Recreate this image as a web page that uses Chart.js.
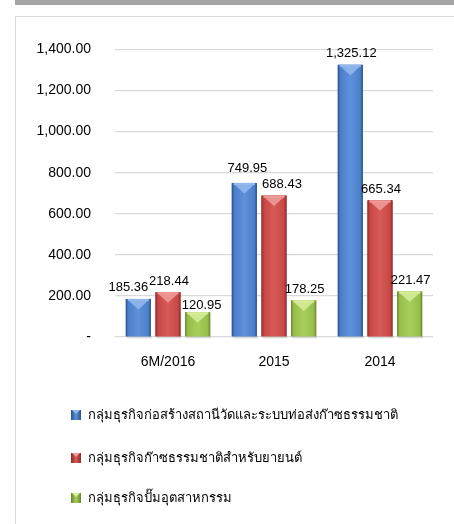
<!DOCTYPE html>
<html>
<head>
<meta charset="utf-8">
<script src="https://cdn.jsdelivr.net/npm/chart.js@4/dist/chart.umd.min.js"></script>
<style>
body { margin: 0; background: #fff; }
#band { position: absolute; left: 15px; top: 0; width: 439px; height: 5px; background: #a5a5a5; }
#box { position: absolute; left: 15px; top: 16px; width: 460px; height: 530px; border: 1px solid #d9d9d9; box-sizing: border-box; }
#wrap { position: absolute; left: 16px; top: 17px; width: 438px; height: 507px; }
</style>
</head>
<body>
<div id="band"></div>
<div id="box"></div>
<div id="wrap"><canvas id="canvas"></canvas></div>
<script>
const categories = ['6M/2016', '2015', '2014'];
const seriesNames = [
    'กลุ่มธุรกิจก่อสร้างสถานีวัดและระบบท่อส่งก๊าซธรรมชาติ',
    'กลุ่มธุรกิจก๊าซธรรมชาติสำหรับยายนต์',
    'กลุ่มธุรกิจปั๊มอุตสาหกรรม'
];
const pipelineValues = [185.36, 749.95, 1325.12];
const ngvValues = [218.44, 688.43, 665.34];
const industryValues = [120.95, 178.25, 221.47];
const yTicks = [0, 200, 400, 600, 800, 1000, 1200, 1400];

// base, edge, centre, chevron
const palette = [
    ['#4a7ec8', '#2c4f86', '#5e92dc', '#93b8ee'],
    ['#c84744', '#8a2826', '#d75b58', '#ee9d9a'],
    ['#97bd4b', '#66852a', '#a8cf5c', '#d6ed9a']
];

// excel moved a few labels to dodge each other
const labelNudge = { '0-0': [-11, 0], '0-1': [2, -4], '1-1': [7, 0], '2-0': [3, 4] };

function fmt(v) {
    if (v === 0) return '-';
    return v.toLocaleString('en-US', { minimumFractionDigits: 2, maximumFractionDigits: 2 });
}

const barLook = {
    id: 'barLook',
    afterDatasetsDraw(chart) {
        const ctx = chart.ctx;
        chart.data.datasets.forEach((ds, di) => {
            const meta = chart.getDatasetMeta(di);
            const c = palette[di];
            meta.data.forEach((bar, i) => {
                const w = bar.width;
                const x0 = bar.x - w / 2;
                const top = bar.y;
                const bottom = bar.base;
                ctx.save();
                // soft shadow under the bar
                ctx.fillStyle = 'rgba(0,0,0,0.12)';
                ctx.fillRect(x0 + 1, bottom, w, 2);
                const g = ctx.createLinearGradient(x0, 0, x0 + w, 0);
                g.addColorStop(0, c[1]);
                g.addColorStop(0.1, c[0]);
                g.addColorStop(0.5, c[2]);
                g.addColorStop(0.9, c[0]);
                g.addColorStop(1, c[1]);
                ctx.fillStyle = g;
                ctx.fillRect(x0, top, w, bottom - top);
                // chevron on top
                ctx.fillStyle = c[3];
                ctx.globalAlpha = 0.85;
                ctx.beginPath();
                ctx.moveTo(x0 + 2, top + 1);
                ctx.lineTo(x0 + w - 2, top + 1);
                ctx.lineTo(bar.x, top + w * 0.42);
                ctx.closePath();
                ctx.fill();
                ctx.globalAlpha = 1;
                ctx.fillRect(x0 + 2, top, w - 4, 2);
                ctx.restore();

                const n = labelNudge[di + '-' + i] || [0, 0];
                ctx.save();
                ctx.font = '13px "Liberation Sans", Arial, sans-serif';
                ctx.fillStyle = '#000';
                ctx.textAlign = 'center';
                ctx.textBaseline = 'middle';
                ctx.fillText(fmt(ds.data[i]), bar.x + 1 + n[0], top - 11 + n[1]);
                ctx.restore();
            });
        });
    },
    afterDraw(chart) {
        const ctx = chart.ctx;
        const rows = [398, 441, 481];
        chart.data.datasets.forEach((ds, di) => {
            const c = palette[di];
            const y = rows[di];
            ctx.save();
            const g = ctx.createLinearGradient(55, 0, 65, 0);
            g.addColorStop(0, c[1]);
            g.addColorStop(0.5, c[2]);
            g.addColorStop(1, c[1]);
            ctx.fillStyle = g;
            ctx.fillRect(55, y - 5, 10, 10);
            ctx.fillStyle = c[3];
            ctx.beginPath();
            ctx.moveTo(56, y - 5);
            ctx.lineTo(64, y - 5);
            ctx.lineTo(60, y - 1);
            ctx.closePath();
            ctx.fill();
            ctx.font = '13px "Liberation Sans", Arial, sans-serif';
            ctx.fillStyle = '#000';
            ctx.textAlign = 'left';
            ctx.textBaseline = 'middle';
            ctx.fillText(ds.label, 72, y);
            ctx.restore();
        });
    }
};

const data = {
    labels: categories,
    datasets: [
        { label: seriesNames[0], data: pipelineValues, backgroundColor: palette[0][0] },
        { label: seriesNames[1], data: ngvValues, backgroundColor: palette[1][0] },
        { label: seriesNames[2], data: industryValues, backgroundColor: palette[2][0] }
    ]
};

const config = {
    type: 'bar',
    data: data,
    options: {
        responsive: true,
        maintainAspectRatio: false,
        animation: false,
        layout: { padding: { top: 29, right: 21, left: 0, bottom: 0 } },
        datasets: { bar: { categoryPercentage: 0.84, barPercentage: 0.845 } },
        plugins: { legend: { display: false }, tooltip: { enabled: false } },
        scales: {
            x: {
                grid: { display: false, drawTicks: false },
                border: { display: false },
                ticks: { padding: 17, color: '#000', font: { family: '"Liberation Sans", Arial, sans-serif', size: 14 } },
                afterFit: s => { s.height = 187; }
            },
            y: {
                min: 0,
                max: 1400,
                grid: { color: '#d9d9d9', lineWidth: 1.3, drawTicks: false },
                border: { display: false },
                afterBuildTicks: s => { s.ticks = yTicks.map(v => ({ value: v })); },
                ticks: {
                    padding: 24,
                    color: '#000',
                    font: { family: '"Liberation Sans", Arial, sans-serif', size: 14 },
                    callback: v => fmt(v)
                },
                afterFit: s => { s.width = 99; }
            }
        }
    },
    plugins: [barLook]
};

const myChart = new Chart(document.querySelector('#canvas'), config);
</script>
</body>
</html>
